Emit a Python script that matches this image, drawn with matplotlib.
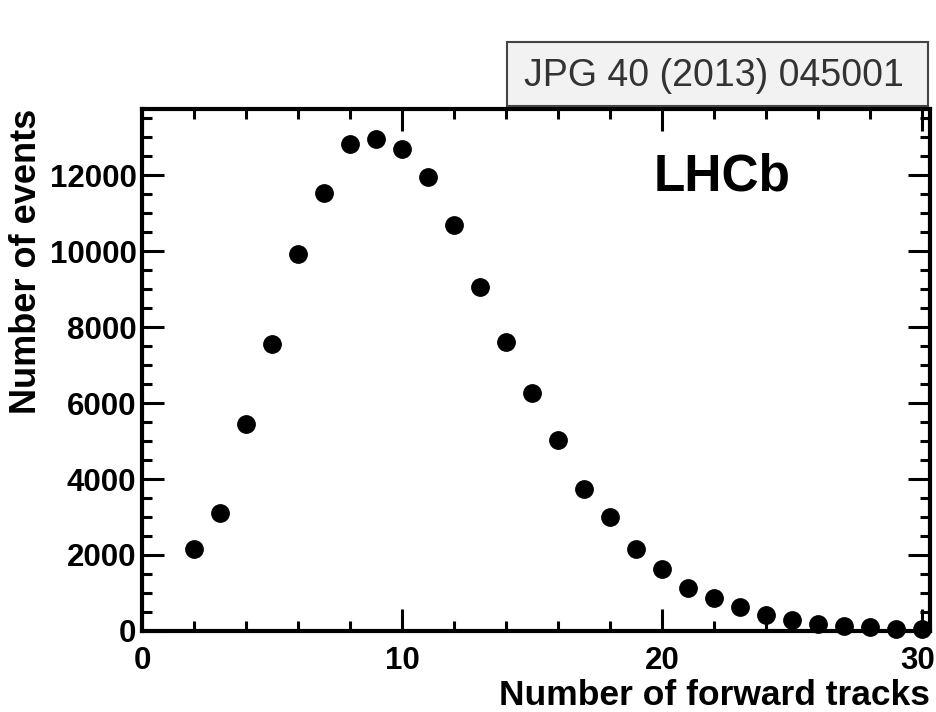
import matplotlib
matplotlib.use("Agg")
import matplotlib.pyplot as plt
import matplotlib.transforms as mtransforms
from matplotlib.patches import Rectangle
from matplotlib.ticker import MultipleLocator

# forward track multiplicity distribution
ntracks = [2, 3, 4, 5, 6, 7, 8, 9, 10, 11, 12, 13, 14, 15, 16,
           17, 18, 19, 20, 21, 22, 23, 24, 25, 26, 27, 28, 29, 30]
nevents = [2150, 3100, 5440, 7560, 9920, 11520, 12810, 12960, 12700, 11950,
           10680, 9050, 7600, 6260, 5030, 3740, 3000, 2150, 1620, 1140,
           860, 620, 420, 290, 185, 130, 95, 55, 55]

plt.rcParams['font.family'] = ['Liberation Sans', 'DejaVu Sans']

fig = plt.figure(figsize=(9.37, 7.12), dpi=100)
ax = fig.add_axes([0.1516, 0.1138, 0.8409, 0.7331])

ax.plot(ntracks, nevents, 'o', color='black', markersize=12.5, clip_on=False, zorder=3)

ax.set_xlim(0, 30.3)
ax.set_ylim(0, 13740)

ax.set_xticks([0, 10, 20, 30])
ax.xaxis.set_minor_locator(MultipleLocator(2))
ax.yaxis.set_major_locator(MultipleLocator(2000))
ax.yaxis.set_minor_locator(MultipleLocator(500))

ax.tick_params(which='both', direction='in', top=True, right=True, width=2.2)
ax.tick_params(which='major', length=16)
ax.tick_params(which='minor', length=7.5)
ax.tick_params(axis='x', which='major', pad=11)
ax.tick_params(axis='y', which='major', pad=4)
for lbl in ax.get_xticklabels() + ax.get_yticklabels():
    lbl.set_fontsize(22.5)
    lbl.set_fontweight('bold')

# nudge the last x label left so it stays inside the canvas
last = ax.xaxis.get_major_ticks()[-1].label1
last.set_transform(last.get_transform() +
                   mtransforms.ScaledTranslation(-0.05, 0, fig.dpi_scale_trans))

for sp in ax.spines.values():
    sp.set_linewidth(3)

ax.set_xlabel('Number of forward tracks', fontsize=25.5, fontweight='bold',
              loc='right', labelpad=2)
ax.set_ylabel('Number of events', fontsize=26, fontweight='bold',
              loc='top', labelpad=4)

ax.text(22.3, 11950, 'LHCb', fontsize=37, fontweight='bold',
        ha='center', va='center')

# journal reference box above the frame
fig.patches.append(Rectangle((0.541, 0.8511), 0.4493, 0.0899, transform=fig.transFigure,
                             facecolor='#f2f2f2', edgecolor='#444444', linewidth=1.5))
fig.text(0.7615, 0.8933, 'JPG 40 (2013) 045001', fontsize=27, color='#333333',
         ha='center', va='center')

fig.savefig('out.png', dpi=100)
